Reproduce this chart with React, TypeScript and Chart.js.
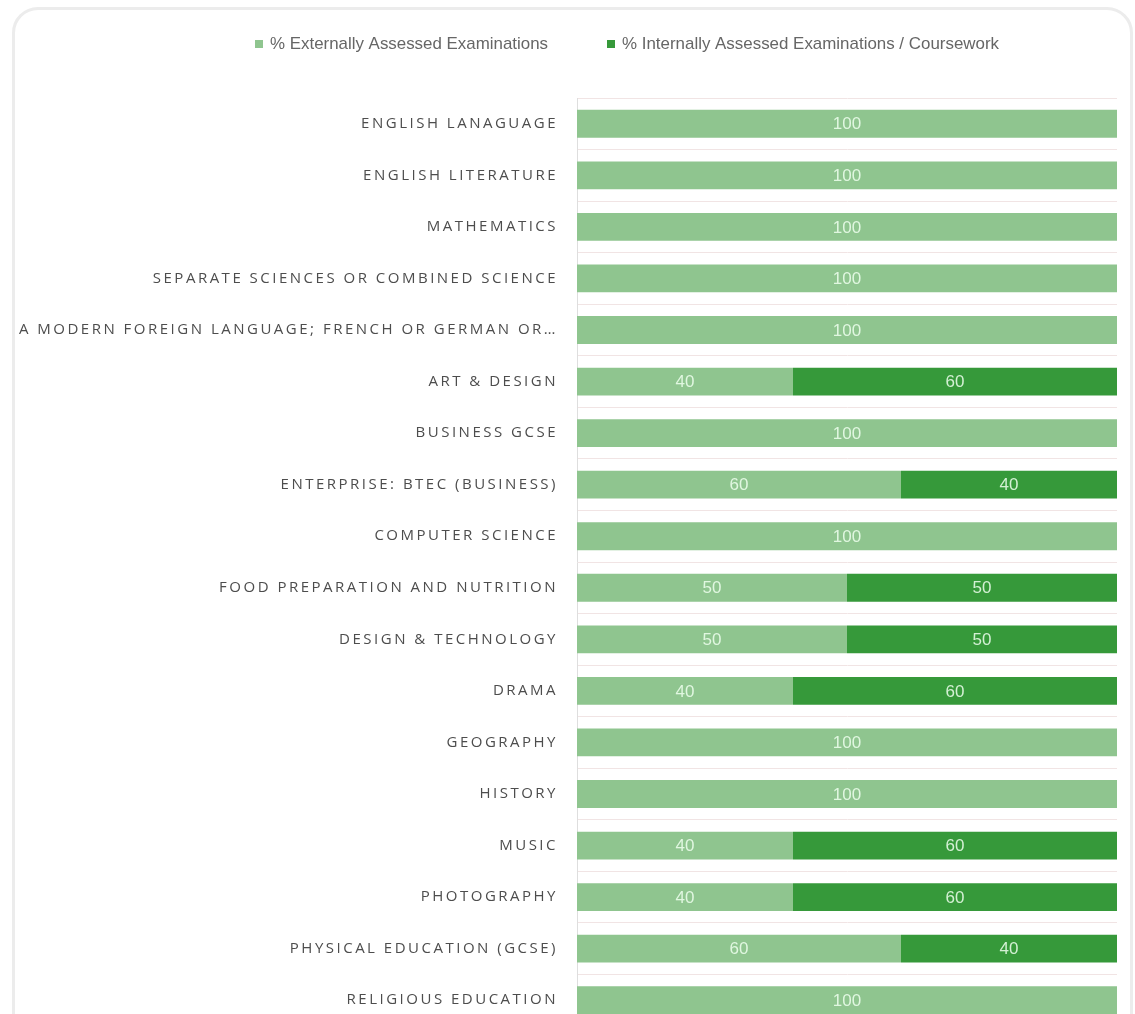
import React, { useEffect, useRef } from "react";
import { Chart, registerables } from "chart.js";

Chart.register(...registerables);

const categories = [
  "ENGLISH LANAGUAGE",
  "ENGLISH LITERATURE",
  "MATHEMATICS",
  "SEPARATE SCIENCES OR COMBINED SCIENCE",
  "A MODERN FOREIGN LANGUAGE; FRENCH OR GERMAN OR…",
  "ART & DESIGN",
  "BUSINESS GCSE",
  "ENTERPRISE: BTEC (BUSINESS)",
  "COMPUTER SCIENCE",
  "FOOD PREPARATION AND NUTRITION",
  "DESIGN & TECHNOLOGY",
  "DRAMA",
  "GEOGRAPHY",
  "HISTORY",
  "MUSIC",
  "PHOTOGRAPHY",
  "PHYSICAL EDUCATION (GCSE)",
  "RELIGIOUS EDUCATION",
];

const externalValues = [100, 100, 100, 100, 100, 40, 100, 60, 100, 50, 50, 40, 100, 100, 40, 40, 60, 100];
const internalValues = [0, 0, 0, 0, 0, 60, 0, 40, 0, 50, 50, 60, 0, 0, 60, 60, 40, 0];

const seriesLabels = [
  "% Externally Assessed Examinations",
  "% Internally Assessed Examinations / Coursework",
];
const seriesColors = ["#8fc58f", "#36993a"];

const AXIS_X = 577;

const legendPlugin = {
  id: "customLegend",
  afterDraw(chart: any) {
    const ctx = chart.ctx;
    ctx.save();
    ctx.letterSpacing = "0px";
    ctx.font = "17px 'Liberation Sans', sans-serif";
    ctx.textBaseline = "middle";
    ctx.textAlign = "left";
    const starts = [255, 607];
    const widths = [278, 377];
    chart.data.datasets.forEach((ds: any, i: number) => {
      const x = starts[i];
      ctx.fillStyle = ds.backgroundColor;
      ctx.fillRect(x, 40, 8, 8);
      ctx.fillStyle = "#666666";
      ctx.fillText(ds.label, x + 15, 44, widths[i]);
    });
    ctx.restore();
  },
};

const valueLabelPlugin = {
  id: "valueLabels",
  beforeDraw(chart: any) {
    chart.ctx.letterSpacing = "0px";
  },
  afterDatasetsDraw(chart: any) {
    const ctx = chart.ctx;
    ctx.save();
    ctx.letterSpacing = "0px";
    ctx.font = "17px 'Liberation Sans', sans-serif";
    ctx.textAlign = "center";
    ctx.textBaseline = "middle";
    ctx.fillStyle = "rgba(238, 255, 238, 0.85)";
    chart.data.datasets.forEach((ds: any, di: number) => {
      const meta = chart.getDatasetMeta(di);
      meta.data.forEach((bar: any, i: number) => {
        const v = ds.data[i];
        if (!v) return;
        const cx = (bar.x + bar.base) / 2;
        const s = String(v);
        ctx.fillText(s, cx, bar.y + 1, s.length * 9.5);
      });
    });
    ctx.restore();
    // letter spacing for the category labels drawn after datasets
    ctx.letterSpacing = "2.5px";
  },
  afterDraw(chart: any) {
    chart.ctx.letterSpacing = "0px";
  },
};

export default function App() {
  const ref = useRef<HTMLCanvasElement | null>(null);

  useEffect(() => {
    document.body.style.margin = "0";
    const canvas = ref.current!;
    const chart = new Chart(canvas, {
      type: "bar",
      data: {
        labels: categories,
        datasets: [
          {
            label: seriesLabels[0],
            data: externalValues,
            backgroundColor: seriesColors[0],
            barPercentage: 0.54,
            categoryPercentage: 1,
          },
          {
            label: seriesLabels[1],
            data: internalValues,
            backgroundColor: seriesColors[1],
            barPercentage: 0.54,
            categoryPercentage: 1,
          },
        ],
      },
      options: {
        indexAxis: "y",
        animation: false,
        responsive: false,
        devicePixelRatio: 1,
        layout: { padding: { top: 98, bottom: 5, left: 0, right: 18 } },
        plugins: {
          legend: { display: false },
          tooltip: { enabled: false },
          title: { display: false },
        },
        scales: {
          x: {
            stacked: true,
            min: 0,
            max: 100,
            display: false,
          },
          y: {
            stacked: true,
            afterFit(axis: any) {
              axis.width = AXIS_X;
            },
            grid: {
              display: true,
              color: "#f1e4e4",
              lineWidth: 1,
              drawTicks: false,
              offset: true,
            },
            border: { display: true, color: "#dedede", width: 1 },
            ticks: {
              z: 1,
              padding: 19,
              color: "#4d4d4d",
              font: { family: "'Open Sans', sans-serif", size: 15 },
            },
          },
        },
      },
      plugins: [valueLabelPlugin, legendPlugin],
    });
    return () => chart.destroy();
  }, []);

  return (
    <div style={{ position: "relative", width: 1135, height: 1054, overflow: "hidden", background: "#ffffff" }}>
      <div
        style={{
          position: "absolute",
          left: 12,
          top: 7,
          width: 1121,
          height: 1120,
          border: "3px solid #ececec",
          borderRadius: 26,
          boxSizing: "border-box",
        }}
      />
      <canvas ref={ref} width={1135} height={1054} style={{ position: "absolute", left: 0, top: 0 }} />
    </div>
  );
}
